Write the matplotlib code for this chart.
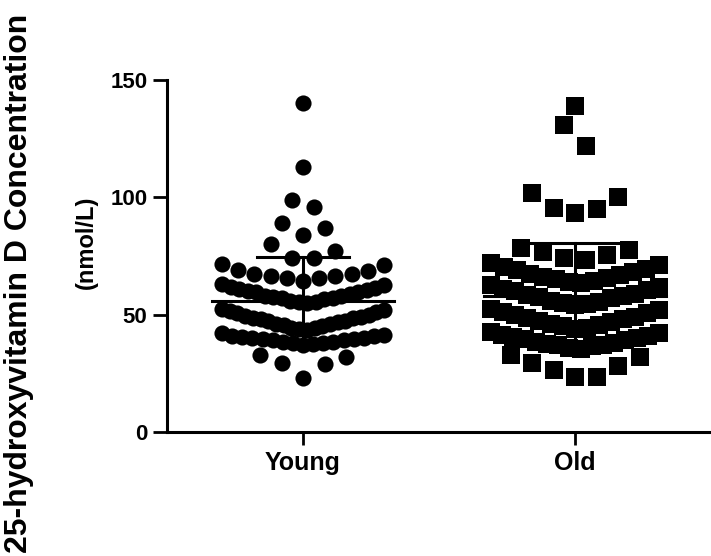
import numpy as np
import matplotlib
matplotlib.use("Agg")
import matplotlib.pyplot as plt

plt.rcParams['font.family'] = ['Liberation Sans', 'DejaVu Sans']
plt.rcParams['font.weight'] = 'bold'

groups = ['Young', 'Old']

young = [23, 29, 29.5, 32, 33,
         37, 37.5, 38, 38, 38.5, 38.5, 39, 39, 39.5, 39.5, 40, 40, 40.5, 41, 41, 41.5, 42,
         43.5, 44, 44.5, 44.5, 45, 45.5, 46, 46, 47, 47.5, 47.5, 48, 48.5, 48.5, 49, 49.5,
         50, 50.5, 51, 51.5, 52, 52.5,
         55, 55.5, 55.5, 56, 56.5, 57, 57, 57.5, 58, 58, 59, 59.5, 59.5, 60, 60.5, 61,
         61.5, 62, 62.5, 63,
         64.5, 65.5, 65.5, 66.5, 66.5, 67.5, 67.5, 68.5, 69, 71, 71.5,
         74, 74, 77, 80, 84, 87, 89, 96, 99, 113, 140]
young_bins = [20, 35, 42.5, 54, 64, 73, 82, 92, 105, 125, 151]

old = [23.5, 23.5, 26.5, 28, 29.5, 32, 33,
       35.5, 36, 36.5, 37, 37, 37.5, 38, 38.5, 39, 39.5, 40, 40.5, 41, 41.5, 42, 42.5,
       44, 44.5, 45, 45.5, 46, 47, 47.5, 48, 48.5, 49, 50, 50.5, 51, 52, 52.5,
       54, 54.5, 55, 55.5, 56, 57, 57.5, 58, 58.5, 59, 60, 60.5, 61, 62, 62.5,
       63.5, 64, 64.5, 65, 65.5, 66, 67, 67.5, 68, 69, 69.5, 70.5, 71, 72,
       73.5, 74, 75.5, 76.5, 77.5, 78.5,
       93.5, 95, 95.5, 100, 102, 122, 131, 139]
old_bins = [20, 34, 43.5, 53.5, 63, 73, 80, 110, 120, 135, 151]

yticks = [0, 50, 100, 150]

DPI = 100
fig = plt.figure(figsize=(7.11, 5.56), dpi=DPI)
ax = fig.add_axes([167 / 711, 124 / 556, 544 / 711, 352 / 556])
ax.set_xlim(-0.5, 1.5)
ax.set_ylim(0, 150)

px_per_unit = 544 / 2.0


def spread(vals, edges, span_px, step_px=21.5):
    # GraphPad-like scatter: bin values, lowest in centre, alternate outwards
    vals = np.asarray(vals, float)
    off = np.zeros(len(vals))
    which = np.digitize(vals, edges)
    for b in np.unique(which):
        idx = np.where(which == b)[0]
        idx = idx[np.argsort(vals[idx], kind='stable')]
        n = len(idx)
        s = step_px if n < 2 else min(step_px, span_px / (n - 1))
        for k, i in enumerate(idx):
            if n % 2:
                slot = 0 if k == 0 else ((k + 1) // 2) * (1 if k % 2 else -1)
            else:
                slot = (k // 2 + 0.5) * (1 if k % 2 == 0 else -1)
            off[i] = slot * s / px_per_unit
    return off


for pos, vals, edges, mk, size, span in [(0, young, young_bins, 'o', 135, 162),
                                          (1, old, old_bins, 's', 150, 168)]:
    x = pos + spread(vals, edges, span)
    ax.scatter(x, vals, marker=mk, s=size, color='black', linewidths=0,
               clip_on=False, zorder=3)
    m = np.mean(vals)
    sd = np.std(vals, ddof=1)
    ax.plot([pos - 0.336, pos + 0.336], [m, m], color='black', lw=2.2, zorder=4)
    ax.plot([pos, pos], [m - sd, m + sd], color='black', lw=2.2, zorder=4)
    ax.plot([pos - 0.17, pos + 0.17], [m + sd, m + sd], color='black', lw=2.2, zorder=4)

for side in ['top', 'right']:
    ax.spines[side].set_visible(False)
for side in ['left', 'bottom']:
    ax.spines[side].set_linewidth(2.2)

ax.set_xticks([0, 1])
ax.set_xticklabels(groups, fontsize=18, fontweight='bold')
ax.set_yticks(yticks)
ax.set_yticklabels([str(t) for t in yticks], fontsize=16, fontweight='bold')
ax.tick_params(axis='x', length=9, width=2, pad=5)
ax.tick_params(axis='y', length=10, width=2, pad=4)

fig.text(19 / 711, 1 - 283 / 556, '25-hydroxyvitamin D Concentration',
         rotation=90, ha='center', va='center', fontsize=23, fontweight='bold')
fig.text(86 / 711, 1 - 242 / 556, '(nmol/L)',
         rotation=90, ha='center', va='center', fontsize=17, fontweight='bold')

fig.savefig('out.png', dpi=DPI)
